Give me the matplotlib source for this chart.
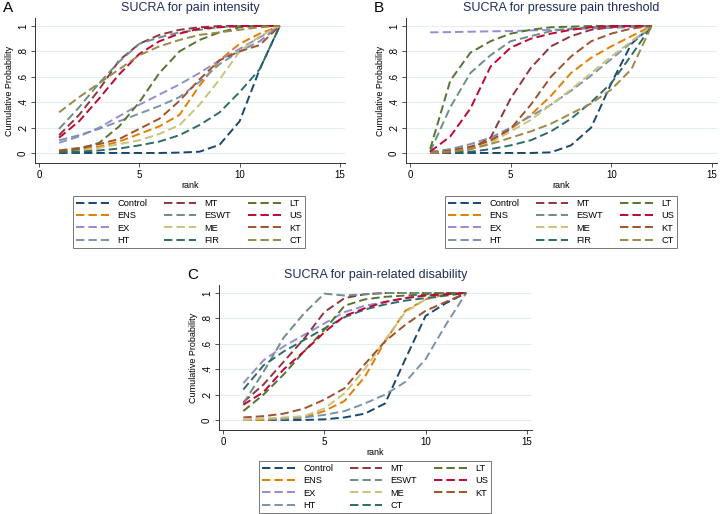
import numpy as np
import matplotlib.pyplot as plt

plt.rcParams['font.family'] = ['Liberation Sans', 'DejaVu Sans']

W, H = 720, 514
ranks = np.arange(1, 13)

# Stata s2color palette
colors = {
    'Control': '#1a476f', 'ENS': '#e37e00', 'EX': '#938dd2', 'HT': '#7b92a8',
    'MT': '#90353b', 'ESWT': '#6e8e84', 'ME': '#cac27e', 'FIR': '#2d6d66',
    'LT': '#55752f', 'US': '#c10534', 'KT': '#a0522d', 'CT': '#9c8847',
}

# Panel A: pain intensity
a_names = ['Control', 'ENS', 'EX', 'HT', 'MT', 'ESWT', 'ME', 'FIR', 'LT', 'US', 'KT', 'CT']
a_control = [0, 0, 0, 0, 0, 0, 0.003, 0.01, 0.065, 0.25, 0.66, 1]
a_ens = [0.01, 0.03, 0.05, 0.09, 0.15, 0.21, 0.30, 0.53, 0.73, 0.86, 0.94, 1]
a_ex = [0.08, 0.13, 0.20, 0.29, 0.38, 0.46, 0.54, 0.63, 0.73, 0.82, 0.91, 1]
a_ht = [0.10, 0.14, 0.19, 0.25, 0.31, 0.37, 0.44, 0.56, 0.70, 0.80, 0.88, 1]
a_mt = [0.14, 0.30, 0.50, 0.73, 0.86, 0.93, 0.97, 0.99, 1, 1, 1, 1]
a_eswt = [0.19, 0.36, 0.55, 0.72, 0.86, 0.91, 0.95, 0.97, 0.99, 1, 1, 1]
a_me = [0.01, 0.02, 0.04, 0.07, 0.10, 0.15, 0.22, 0.38, 0.58, 0.80, 0.92, 1]
a_fir = [0.005, 0.01, 0.02, 0.035, 0.06, 0.09, 0.14, 0.22, 0.32, 0.48, 0.66, 1]
a_lt = [0.01, 0.03, 0.08, 0.21, 0.40, 0.63, 0.80, 0.89, 0.95, 0.99, 1, 1]
a_us = [0.12, 0.25, 0.43, 0.62, 0.78, 0.88, 0.94, 0.98, 0.99, 1, 1, 1]
a_kt = [0.02, 0.04, 0.07, 0.11, 0.19, 0.27, 0.41, 0.58, 0.73, 0.80, 0.85, 1]
a_ct = [0.32, 0.44, 0.55, 0.66, 0.77, 0.84, 0.89, 0.93, 0.95, 0.97, 0.99, 1]
a_vals = [a_control, a_ens, a_ex, a_ht, a_mt, a_eswt, a_me, a_fir, a_lt, a_us, a_kt, a_ct]

# Panel B: pressure pain threshold
b_names = a_names
b_control = [0, 0, 0, 0, 0, 0, 0.005, 0.06, 0.20, 0.55, 0.86, 1]
b_ens = [0, 0.01, 0.04, 0.09, 0.19, 0.30, 0.45, 0.63, 0.75, 0.84, 0.92, 1]
b_ex = [0.95, 0.952, 0.955, 0.958, 0.96, 0.965, 0.97, 0.975, 0.98, 0.985, 0.99, 1]
b_ht = [0.01, 0.03, 0.07, 0.12, 0.20, 0.29, 0.38, 0.49, 0.61, 0.74, 0.87, 1]
b_mt = [0, 0, 0.03, 0.12, 0.43, 0.67, 0.84, 0.92, 0.97, 0.99, 1, 1]
b_eswt = [0.01, 0.36, 0.63, 0.77, 0.88, 0.92, 0.96, 0.98, 0.99, 1, 1, 1]
b_me = [0, 0.01, 0.03, 0.08, 0.17, 0.26, 0.38, 0.50, 0.63, 0.76, 0.88, 1]
b_fir = [0, 0.005, 0.01, 0.03, 0.06, 0.10, 0.17, 0.27, 0.40, 0.55, 0.77, 1]
b_lt = [0.03, 0.57, 0.79, 0.88, 0.94, 0.97, 0.99, 0.995, 1, 1, 1, 1]
b_us = [0.01, 0.13, 0.35, 0.68, 0.83, 0.90, 0.94, 0.97, 0.99, 1, 1, 1]
b_kt = [0, 0.02, 0.05, 0.10, 0.19, 0.38, 0.60, 0.76, 0.88, 0.94, 0.98, 1]
b_ct = [0, 0.01, 0.03, 0.07, 0.12, 0.17, 0.23, 0.31, 0.39, 0.50, 0.66, 1]
b_vals = [b_control, b_ens, b_ex, b_ht, b_mt, b_eswt, b_me, b_fir, b_lt, b_us, b_kt, b_ct]

# Panel C: pain-related disability (no FIR, CT takes the 8th colour)
c_names = ['Control', 'ENS', 'EX', 'HT', 'MT', 'ESWT', 'ME', 'CT', 'LT', 'US', 'KT']
c_control = [0, 0, 0, 0, 0.005, 0.02, 0.05, 0.13, 0.48, 0.82, 0.92, 1]
c_ens = [0, 0, 0.01, 0.02, 0.07, 0.15, 0.34, 0.62, 0.86, 0.95, 0.99, 1]
c_ex = [0.29, 0.47, 0.58, 0.67, 0.76, 0.85, 0.90, 0.93, 0.96, 0.98, 0.99, 1]
c_ht = [0.0, 0.01, 0.01, 0.02, 0.04, 0.07, 0.13, 0.20, 0.30, 0.48, 0.75, 1]
c_mt = [0.14, 0.28, 0.46, 0.64, 0.85, 0.96, 0.99, 1, 1, 1, 1, 1]
c_eswt = [0.13, 0.38, 0.65, 0.84, 0.995, 0.98, 0.99, 1, 1, 1, 1, 1]
c_me = [0, 0.01, 0.02, 0.03, 0.09, 0.21, 0.40, 0.63, 0.85, 0.95, 0.98, 1]
c_ct = [0.24, 0.43, 0.54, 0.63, 0.72, 0.81, 0.87, 0.91, 0.94, 0.96, 0.98, 1]
c_lt = [0.07, 0.20, 0.36, 0.54, 0.71, 0.90, 0.95, 0.97, 0.98, 0.99, 1, 1]
c_us = [0.12, 0.22, 0.40, 0.54, 0.69, 0.82, 0.88, 0.93, 0.96, 0.98, 0.99, 1]
c_kt = [0.02, 0.03, 0.05, 0.09, 0.16, 0.25, 0.44, 0.62, 0.75, 0.86, 0.93, 1]
c_vals = [c_control, c_ens, c_ex, c_ht, c_mt, c_eswt, c_me, c_ct, c_lt, c_us, c_kt]
c_colors = [colors[n] for n in a_names[:7]] + [colors['FIR'], colors['LT'], colors['US'], colors['KT']]

yticks = [0, 0.2, 0.4, 0.6, 0.8, 1]
yticklabels = ['0', '.2', '.4', '.6', '.8', '1']
xticks = [0, 5, 10, 15]

fig = plt.figure(figsize=(W / 100, H / 100), dpi=100)


def rect(l, r, t, b):
    return [l / W, 1 - b / H, (r - l) / W, (b - t) / H]


def panel(box, ylim, names, vals, cols, title, letter, leg_center, leg_top):
    ax = fig.add_axes(rect(*box))
    for n, v, c in zip(names, vals, cols):
        ax.plot(ranks, v, color=c, lw=1.4, dashes=(4.3, 2.1), label=n)
    ax.set_xlim(-0.2, 15.25)
    ax.set_ylim(*ylim)
    ax.set_xticks(xticks)
    ax.set_yticks(yticks)
    ax.set_yticklabels(yticklabels, rotation=90, va='center')
    ax.tick_params(labelsize=7, length=3, width=0.6, color='#333333', pad=2)
    ax.grid(axis='y', color='#e4eef0', lw=0.8)
    ax.set_axisbelow(True)
    for s in ['top', 'right']:
        ax.spines[s].set_visible(False)
    for s in ['left', 'bottom']:
        ax.spines[s].set_linewidth(0.7)
        ax.spines[s].set_color('#333333')
    ax.set_xlabel('rank', fontsize=6.5, labelpad=1)
    ax.set_ylabel('Cumulative Probability', fontsize=6.5, labelpad=3)
    ax.set_title(title, fontsize=9, color='#1f2d5c', pad=5)
    l, r, t, b = box
    fig.text((l - 32) / W, 1 - (t - 10) / H, letter, fontsize=11, va='center', ha='left')
    leg = ax.legend(loc='upper center', bbox_to_anchor=(leg_center / W, 1 - leg_top / H),
                    bbox_transform=fig.transFigure, ncol=3, fontsize=6.7, frameon=True,
                    fancybox=False, edgecolor='#555555', handlelength=3.5,
                    columnspacing=1.8, labelspacing=0.36, handletextpad=0.9,
                    borderpad=0.35)
    leg.get_frame().set_linewidth(0.7)
    return ax


panel((35, 345, 18, 163), (-0.079, 1.063), a_names, a_vals, [colors[n] for n in a_names],
      'SUCRA for pain intensity', 'A', 189, 191)
panel((406, 717, 18, 163), (-0.079, 1.063), b_names, b_vals, [colors[n] for n in b_names],
      'SUCRA for pressure pain threshold', 'B', 561, 191)
panel((219, 532, 285, 430), (-0.079, 1.063), c_names, c_vals, c_colors,
      'SUCRA for pain-related disability', 'C', 375, 456)

fig.savefig('out.png', dpi=100, facecolor='white')
